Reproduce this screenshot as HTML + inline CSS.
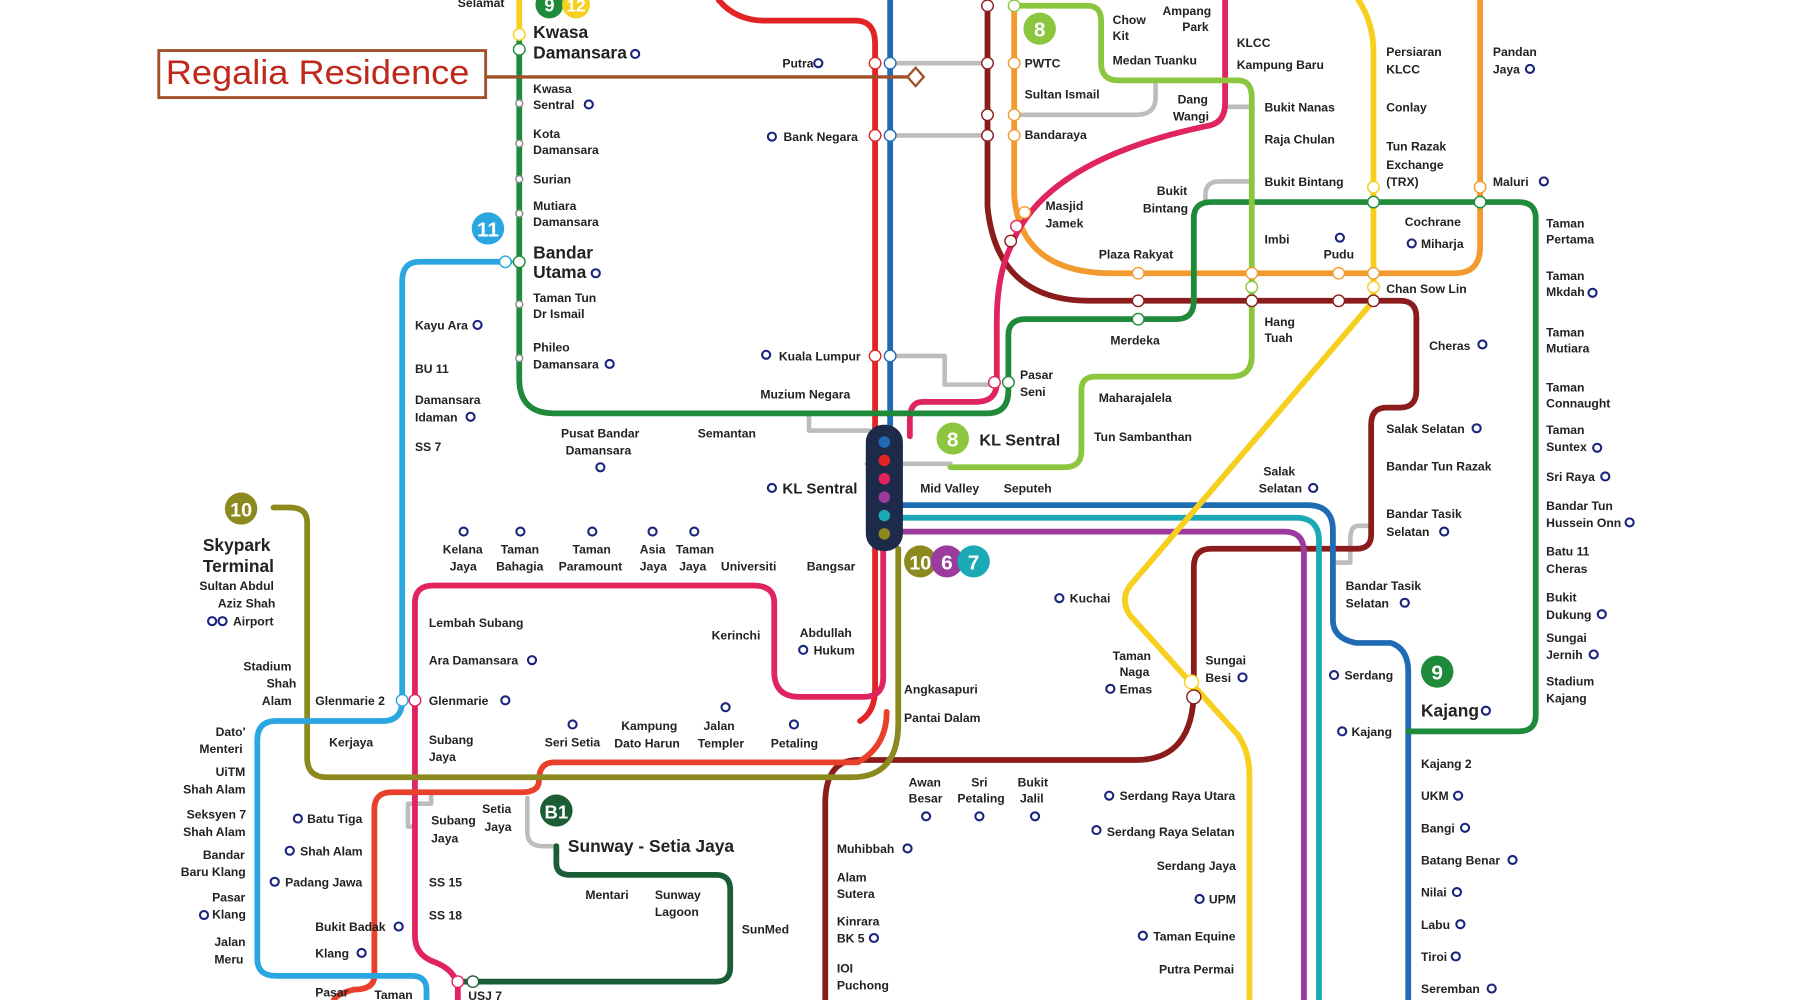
<!DOCTYPE html>
<html><head><meta charset="utf-8">
<style>
html,body{margin:0;padding:0;background:#fff;}
svg{display:block}
text{font-family:"Liberation Sans Narrow","Liberation Sans",sans-serif;font-weight:bold;fill:#222;font-size:10.5px}
.b{font-size:15px}
.l{fill:none;stroke-linecap:round;stroke-linejoin:round}
.s{fill:#fff;stroke-width:1.2}
.o{fill:none;stroke:#1a237e;stroke-width:1.8}
</style></head><body>
<svg width="1800" height="1000" viewBox="0 0 1553 871" preserveAspectRatio="none" xmlns="http://www.w3.org/2000/svg">
<rect width="1553" height="871" fill="#fff"/>
<g class="l" stroke="#bdbdbd" stroke-width="4">
<path d="M770,55 H852"/><path d="M770,118 H852"/>
<path d="M875,100 H980 Q997,100 997,85 V70"/>
<path d="M770,310 H815 V335 H858"/>
<path d="M1040,175 V170 Q1040,158 1052,158 H1080"/>
<path d="M1057,93 H1080"/>
<path d="M698,360 V375 H750"/>
<path d="M1183,445 V458 H1172 Q1165,458 1165,470 V490 H1152"/>
<path d="M372,690 V700 H352 V720 H358"/>
<path d="M455,695 V725 Q455,737 468,737 H480"/>
<path d="M748,404 H820"/>
</g>
<path class="l" stroke="#f29a2e" stroke-width="5" d="M875,0 V170 Q880,238 960,238 H1255 Q1277,238 1277,215 V0"/>
<path class="l" stroke="#8b1c1c" stroke-width="5" d="M852,0 V180 Q860,262 940,262 H1208 Q1222,262 1222,276 V340 Q1222,355 1208,355 H1196 Q1183,355 1183,370 V466 Q1183,478 1170,478 H1045 Q1030,478 1030,494 V600 Q1030,662 980,662 H740 Q712,662 712,700 V871"/>
<path class="l" stroke="#e32424" stroke-width="5" d="M620,0 Q635,18 660,18 H738 Q755,18 755,38 V600 Q755,620 742,628"/>
<path class="l" stroke="#1f6cb5" stroke-width="5" d="M768,0 V440 H1128 Q1150,440 1150,462 V540 Q1150,556 1170,560 H1200 Q1215,565 1215,585 V871"/>
<path class="l" stroke="#1ba9b5" stroke-width="5" d="M775,451 H1118 Q1138,451 1138,471 V871"/>
<path class="l" stroke="#9b3b9e" stroke-width="5" d="M775,463 H1108 Q1125,463 1125,481 V871"/>
<path class="l" stroke="#e0245e" stroke-width="5" d="M1057,0 V90 Q1057,108 1040,110 Q900,140 872,215 Q860,240 860,280 V333 Q860,350 842,350 H796 Q785,350 785,365 V380"/>
<path class="l" stroke="#e0245e" stroke-width="5" d="M762,470 V590 Q762,607 745,607 H690 Q668,607 668,585 V525 Q668,510 650,510 H374 Q358,510 358,525 V815 Q358,832 375,838 Q393,845 395,860 V871"/>
<path class="l" stroke="#e8402a" stroke-width="5" d="M765,620 Q765,650 740,664 H478 Q465,664 465,680 Q465,690 450,690 H338 Q323,690 323,705 V850 Q323,862 305,862 Q290,866 288,871"/>
<path class="l" stroke="#8c8a1f" stroke-width="5" d="M775,478 V630 Q775,677 735,677 H282 Q265,677 265,660 V455 Q265,442 250,442 H236"/>
<path class="l" stroke="#2aa6e0" stroke-width="5" d="M440,228 H362 Q347,228 347,245 V610 Q347,628 330,628 H238 Q222,628 222,645 V835 Q222,850 238,850 H355 Q368,850 368,862 V871"/>
<path class="l" stroke="#1e8a3a" stroke-width="5" d="M448,30 V330 Q448,360 478,360 H852 Q870,360 870,340 V292 Q870,278 885,278 H1015 Q1030,278 1030,262 V190 Q1030,176 1045,176 H1310 Q1325,176 1325,190 V623 Q1325,637 1310,637 H1215"/>
<path class="l" stroke="#f6cf1f" stroke-width="5" d="M448,0 V30"/>
<path class="l" stroke="#f6cf1f" stroke-width="5" d="M1172,0 Q1185,20 1185,45 V262 L975,510 Q966,522 975,536 L1068,640 Q1078,655 1078,675 V871"/>
<path class="l" stroke="#8cc63f" stroke-width="5" d="M875,5 H938 Q950,5 950,18 V55 Q950,70 965,70 H1068 Q1080,70 1080,85 V310 Q1080,328 1062,328 H945 Q933,328 933,340 V393 Q933,407 918,407 H820"/>
<path class="l" stroke="#1b5e36" stroke-width="5" d="M480,737 V752 Q480,762 492,762 H618 Q630,762 630,775 V843 Q630,855 617,855 H395"/>
<path d="M420,67 H785" stroke="#a2502a" stroke-width="3"/>
<path d="M790,59 L797,67 L790,75 L783,67 Z" fill="#fff" stroke="#a2502a" stroke-width="2"/>
<rect x="137" y="44" width="282" height="41" fill="#fff" stroke="#a2502a" stroke-width="2.5"/>
<text x="143" y="73" style="font-family:'Liberation Sans',sans-serif;font-weight:normal;font-size:30px;fill:#c0281c" textLength="262" lengthAdjust="spacingAndGlyphs">Regalia Residence</text>
<rect x="747" y="370" width="32" height="110" rx="15" fill="#1d2a4a"/>
<circle cx="763" cy="385" r="5" fill="#1f6cb5"/><circle cx="763" cy="401" r="5" fill="#e32424"/><circle cx="763" cy="417" r="5" fill="#e0245e"/><circle cx="763" cy="433" r="5" fill="#9b3b9e"/><circle cx="763" cy="449" r="5" fill="#1ba9b5"/><circle cx="763" cy="465" r="5" fill="#8c8a1f"/>
<g style="font-family:'Liberation Sans',sans-serif;font-weight:bold" text-anchor="middle">
<circle cx="474" cy="4" r="12" fill="#1e8a3a"/><circle cx="497" cy="4" r="12" fill="#f6cf1f"/>
<text x="474" y="10" style="fill:#fff;font-size:16px">9</text><text x="497" y="10" style="fill:#fff;font-size:15px">12</text>
<circle cx="421" cy="199" r="14" fill="#2aa6e0"/><text x="421" y="206" style="fill:#fff;font-size:18px">11</text>
<circle cx="897" cy="25" r="14" fill="#8cc63f"/><text x="897" y="32" style="fill:#fff;font-size:18px">8</text>
<circle cx="822" cy="382" r="14" fill="#8cc63f"/><text x="822" y="389" style="fill:#fff;font-size:18px">8</text>
<circle cx="208" cy="443" r="14" fill="#8c8a1f"/><text x="208" y="450" style="fill:#fff;font-size:17px">10</text>
<circle cx="794" cy="489" r="14" fill="#8c8a1f"/><text x="794" y="496" style="fill:#fff;font-size:17px">10</text>
<circle cx="817" cy="489" r="14" fill="#9b3b9e"/><text x="817" y="496" style="fill:#fff;font-size:18px">6</text>
<circle cx="840" cy="489" r="14" fill="#1ba9b5"/><text x="840" y="496" style="fill:#fff;font-size:18px">7</text>
<circle cx="480" cy="706" r="14" fill="#1b5e36"/><text x="480" y="713" style="fill:#fff;font-size:16px">B1</text>
<circle cx="1240" cy="585" r="14" fill="#1e8a3a"/><text x="1240" y="592" style="fill:#fff;font-size:18px">9</text>
</g>
<g class="s" stroke="#888">
<circle cx="448" cy="30" r="5" stroke="#f6cf1f"/><circle cx="448" cy="43" r="5" stroke="#1e8a3a"/>
<circle cx="448" cy="90" r="3"/><circle cx="448" cy="125" r="3"/><circle cx="448" cy="156" r="3"/><circle cx="448" cy="186" r="3"/><circle cx="448" cy="265" r="3"/><circle cx="448" cy="312" r="3"/>
<circle cx="436" cy="228" r="5" stroke="#2aa6e0"/><circle cx="448" cy="228" r="5" stroke="#1e8a3a"/>
<circle cx="755" cy="55" r="5" stroke="#e32424"/><circle cx="768" cy="55" r="5" stroke="#1f6cb5"/>
<circle cx="755" cy="118" r="5" stroke="#e32424"/><circle cx="768" cy="118" r="5" stroke="#1f6cb5"/>
<circle cx="755" cy="310" r="5" stroke="#e32424"/><circle cx="768" cy="310" r="5" stroke="#1f6cb5"/>
<circle cx="852" cy="5" r="5" stroke="#8b1c1c"/><circle cx="875" cy="5" r="5" stroke="#8cc63f"/>
<circle cx="852" cy="55" r="5" stroke="#8b1c1c"/><circle cx="875" cy="55" r="5" stroke="#f29a2e"/>
<circle cx="852" cy="100" r="5" stroke="#8b1c1c"/><circle cx="875" cy="100" r="5" stroke="#f29a2e"/>
<circle cx="852" cy="118" r="5" stroke="#8b1c1c"/><circle cx="875" cy="118" r="5" stroke="#f29a2e"/>
<circle cx="884" cy="185" r="5" stroke="#f29a2e"/><circle cx="877" cy="197" r="5" stroke="#e0245e"/><circle cx="872" cy="210" r="5" stroke="#8b1c1c"/>
<circle cx="982" cy="238" r="5" stroke="#f29a2e"/><circle cx="982" cy="262" r="5" stroke="#8b1c1c"/><circle cx="982" cy="278" r="5" stroke="#1e8a3a"/>
<circle cx="1080" cy="238" r="5" stroke="#f29a2e"/><circle cx="1080" cy="250" r="5" stroke="#8cc63f"/><circle cx="1080" cy="262" r="5" stroke="#8b1c1c"/>
<circle cx="1155" cy="238" r="5" stroke="#f29a2e"/><circle cx="1155" cy="262" r="5" stroke="#8b1c1c"/>
<circle cx="1185" cy="238" r="5" stroke="#f29a2e"/><circle cx="1185" cy="250" r="5" stroke="#f6cf1f"/><circle cx="1185" cy="262" r="5" stroke="#8b1c1c"/>
<circle cx="1185" cy="163" r="5" stroke="#f6cf1f"/><circle cx="1185" cy="176" r="5" stroke="#1e8a3a"/>
<circle cx="1277" cy="163" r="5" stroke="#f29a2e"/><circle cx="1277" cy="176" r="5" stroke="#1e8a3a"/>
<circle cx="858" cy="333" r="5" stroke="#e0245e"/><circle cx="870" cy="333" r="5" stroke="#1e8a3a"/>
<circle cx="347" cy="610" r="5" stroke="#2aa6e0"/><circle cx="358" cy="610" r="5" stroke="#e0245e"/>
<circle cx="1028" cy="594" r="6" stroke="#f6cf1f"/><circle cx="1030" cy="607" r="6" stroke="#8b1c1c"/>
<circle cx="395" cy="855" r="5" stroke="#e0245e"/><circle cx="408" cy="855" r="5" stroke="#1b5e36"/>
</g>
<g>
<text x="395" y="6">Selamat</text>
<text x="460" y="33" class="b">Kwasa</text><text x="460" y="51" class="b">Damansara</text>
<text x="460" y="81">Kwasa</text><text x="460" y="95">Sentral</text>
<text x="460" y="120">Kota</text><text x="460" y="134">Damansara</text>
<text x="460" y="160">Surian</text>
<text x="460" y="183">Mutiara</text><text x="460" y="197">Damansara</text>
<text x="460" y="225" class="b">Bandar</text><text x="460" y="242" class="b">Utama</text>
<text x="460" y="263">Taman Tun</text><text x="460" y="277">Dr Ismail</text>
<text x="460" y="306">Phileo</text><text x="460" y="321">Damansara</text>
<text x="675" y="59">Putra</text>
<text x="676" y="123">Bank Negara</text>
<text x="672" y="314">Kuala Lumpur</text>
<text x="656" y="347">Muzium Negara</text>
<text x="484" y="381">Pusat Bandar</text><text x="488" y="396">Damansara</text>
<text x="602" y="381">Semantan</text>
<text x="675" y="430" style="font-size:13px">KL Sentral</text>
<text x="358" y="287">Kayu Ara</text>
<text x="358" y="325">BU 11</text>
<text x="358" y="352">Damansara</text><text x="358" y="367">Idaman</text>
<text x="358" y="393">SS 7</text>
<text x="884" y="59">PWTC</text>
<text x="960" y="21">Chow</text><text x="960" y="35">Kit</text>
<text x="1003" y="13">Ampang</text><text x="1020" y="27">Park</text>
<text x="960" y="56">Medan Tuanku</text>
<text x="884" y="86">Sultan Ismail</text>
<text x="884" y="121">Bandaraya</text>
<text x="1067" y="41">KLCC</text><text x="1067" y="60">Kampung Baru</text>
<text x="1016" y="90">Dang</text><text x="1012" y="105">Wangi</text>
<text x="1091" y="97">Bukit Nanas</text>
<text x="1091" y="125">Raja Chulan</text>
<text x="1091" y="162">Bukit Bintang</text>
<text x="998" y="170">Bukit</text><text x="986" y="185">Bintang</text>
<text x="902" y="183">Masjid</text><text x="902" y="198">Jamek</text>
<text x="948" y="225">Plaza Rakyat</text>
<text x="1091" y="212">Imbi</text>
<text x="1142" y="225">Pudu</text>
<text x="958" y="300">Merdeka</text>
<text x="1091" y="284">Hang</text><text x="1091" y="298">Tuah</text>
<text x="1196" y="49">Persiaran</text><text x="1196" y="64">KLCC</text>
<text x="1196" y="97">Conlay</text>
<text x="1196" y="131">Tun Razak</text><text x="1196" y="147">Exchange</text><text x="1196" y="162">(TRX)</text>
<text x="1212" y="197">Cochrane</text><text x="1226" y="216">Miharja</text>
<text x="1196" y="255">Chan Sow Lin</text>
<text x="1288" y="49">Pandan</text><text x="1288" y="64">Jaya</text>
<text x="1288" y="162">Maluri</text>
<text x="1233" y="305">Cheras</text>
<text x="880" y="330">Pasar</text><text x="880" y="345">Seni</text>
<text x="948" y="350">Maharajalela</text>
<text x="944" y="384">Tun Sambanthan</text>
<text x="845" y="388" style="font-size:14px">KL Sentral</text>
<text x="794" y="429">Mid Valley</text><text x="866" y="429">Seputeh</text>
<text x="1090" y="414">Salak</text><text x="1086" y="429">Selatan</text>
<text x="1196" y="377">Salak Selatan</text>
<text x="1196" y="410">Bandar Tun Razak</text>
<text x="1196" y="451">Bandar Tasik</text><text x="1196" y="467">Selatan</text>
<text x="1161" y="514">Bandar Tasik</text><text x="1161" y="529">Selatan</text>
<text x="1334" y="198">Taman</text><text x="1334" y="212">Pertama</text>
<text x="1334" y="244">Taman</text><text x="1334" y="258">Mkdah</text>
<text x="1334" y="293">Taman</text><text x="1334" y="307">Mutiara</text>
<text x="1334" y="341">Taman</text><text x="1334" y="355">Connaught</text>
<text x="1334" y="378">Taman</text><text x="1334" y="393">Suntex</text>
<text x="1334" y="419">Sri Raya</text>
<text x="1334" y="444">Bandar Tun</text><text x="1334" y="459">Hussein Onn</text>
<text x="1334" y="484">Batu 11</text><text x="1334" y="499">Cheras</text>
<text x="1334" y="524">Bukit</text><text x="1334" y="539">Dukung</text>
<text x="1334" y="559">Sungai</text><text x="1334" y="574">Jernih</text>
<text x="1334" y="597">Stadium</text><text x="1334" y="612">Kajang</text>
<text x="1226" y="624" class="b">Kajang</text>
<text x="1160" y="592">Serdang</text><text x="1166" y="641">Kajang</text>
<text x="1226" y="669">Kajang 2</text><text x="1226" y="697">UKM</text><text x="1226" y="725">Bangi</text>
<text x="1226" y="753">Batang Benar</text><text x="1226" y="781">Nilai</text><text x="1226" y="809">Labu</text>
<text x="1226" y="837">Tiroi</text><text x="1226" y="865">Seremban</text>
<text x="923" y="525">Kuchai</text>
<text x="960" y="575">Taman</text><text x="966" y="589">Naga</text><text x="966" y="604">Emas</text>
<text x="1040" y="579">Sungai</text><text x="1040" y="594">Besi</text>
<text x="966" y="697">Serdang Raya Utara</text>
<text x="955" y="728">Serdang Raya Selatan</text>
<text x="998" y="758">Serdang Jaya</text>
<text x="1043" y="787">UPM</text>
<text x="995" y="819">Taman Equine</text>
<text x="1000" y="848">Putra Permai</text>
<text x="784" y="685">Awan</text><text x="784" y="699">Besar</text>
<text x="838" y="685">Sri</text><text x="826" y="699">Petaling</text>
<text x="878" y="685">Bukit</text><text x="880" y="699">Jalil</text>
<text x="722" y="743">Muhibbah</text>
<text x="722" y="768">Alam</text><text x="722" y="782">Sutera</text>
<text x="722" y="806">Kinrara</text><text x="722" y="821">BK 5</text>
<text x="722" y="847">IOI</text><text x="722" y="862">Puchong</text>
<text x="780" y="604">Angkasapuri</text>
<text x="780" y="629">Pantai Dalam</text>
<text x="382" y="482">Kelana</text><text x="388" y="497">Jaya</text>
<text x="432" y="482">Taman</text><text x="428" y="497">Bahagia</text>
<text x="494" y="482">Taman</text><text x="482" y="497">Paramount</text>
<text x="552" y="482">Asia</text><text x="552" y="497">Jaya</text>
<text x="583" y="482">Taman</text><text x="586" y="497">Jaya</text>
<text x="622" y="497">Universiti</text>
<text x="696" y="497">Bangsar</text>
<text x="614" y="557">Kerinchi</text>
<text x="690" y="555">Abdullah</text><text x="702" y="570">Hukum</text>
<text x="370" y="546">Lembah Subang</text>
<text x="370" y="579">Ara Damansara</text>
<text x="370" y="614">Glenmarie</text>
<text x="272" y="614">Glenmarie 2</text>
<text x="370" y="648">Subang</text><text x="370" y="663">Jaya</text>
<text x="470" y="650">Seri Setia</text>
<text x="536" y="636">Kampung</text><text x="530" y="651">Dato Harun</text>
<text x="607" y="636">Jalan</text><text x="602" y="651">Templer</text>
<text x="665" y="651">Petaling</text>
<text x="284" y="650">Kerjaya</text>
<text x="175" y="480" class="b">Skypark</text><text x="175" y="498" class="b">Terminal</text>
<text x="172" y="514">Sultan Abdul</text><text x="188" y="529">Aziz Shah</text><text x="201" y="545">Airport</text>
<text x="210" y="584">Stadium</text><text x="230" y="599">Shah</text><text x="226" y="614">Alam</text>
<text x="186" y="641">Dato'</text><text x="172" y="656">Menteri</text>
<text x="186" y="676">UiTM</text><text x="158" y="691">Shah Alam</text>
<text x="161" y="713">Seksyen 7</text><text x="158" y="728">Shah Alam</text>
<text x="175" y="748">Bandar</text><text x="156" y="763">Baru Klang</text>
<text x="183" y="785">Pasar</text><text x="183" y="800">Klang</text>
<text x="185" y="824">Jalan</text><text x="185" y="839">Meru</text>
<text x="265" y="717">Batu Tiga</text>
<text x="259" y="745">Shah Alam</text>
<text x="246" y="772">Padang Jawa</text>
<text x="272" y="811">Bukit Badak</text>
<text x="272" y="834">Klang</text>
<text x="372" y="718">Subang</text><text x="372" y="734">Jaya</text>
<text x="416" y="708">Setia</text><text x="418" y="724">Jaya</text>
<text x="370" y="772">SS 15</text><text x="370" y="801">SS 18</text>
<text x="490" y="742" style="font-size:15px">Sunway - Setia Jaya</text>
<text x="505" y="783">Mentari</text>
<text x="565" y="783">Sunway</text><text x="565" y="798">Lagoon</text>
<text x="640" y="813">SunMed</text>
<text x="272" y="868">Pasar</text><text x="323" y="870">Taman</text>
<text x="404" y="871">USJ 7</text>
</g>
<g class="o">
<circle cx="548" cy="47" r="3.5"/><circle cx="508" cy="91" r="3.5"/><circle cx="514" cy="238" r="3.5"/><circle cx="526" cy="317" r="3.5"/>
<circle cx="706" cy="55" r="3.5"/><circle cx="666" cy="119" r="3.5"/><circle cx="661" cy="309" r="3.5"/><circle cx="518" cy="407" r="3.5"/><circle cx="666" cy="425" r="3.5"/>
<circle cx="412" cy="283" r="3.5"/><circle cx="406" cy="363" r="3.5"/>
<circle cx="1320" cy="60" r="3.5"/><circle cx="1332" cy="158" r="3.5"/><circle cx="1156" cy="207" r="3.5"/><circle cx="1218" cy="212" r="3.5"/>
<circle cx="1279" cy="300" r="3.5"/><circle cx="1274" cy="373" r="3.5"/><circle cx="1246" cy="463" r="3.5"/><circle cx="1133" cy="425" r="3.5"/><circle cx="1212" cy="525" r="3.5"/>
<circle cx="1374" cy="255" r="3.5"/><circle cx="1378" cy="390" r="3.5"/><circle cx="1385" cy="415" r="3.5"/><circle cx="1406" cy="455" r="3.5"/><circle cx="1382" cy="535" r="3.5"/><circle cx="1375" cy="570" r="3.5"/>
<circle cx="1282" cy="619" r="3.5"/><circle cx="1151" cy="588" r="3.5"/><circle cx="1158" cy="637" r="3.5"/>
<circle cx="1258" cy="693" r="3.5"/><circle cx="1264" cy="721" r="3.5"/><circle cx="1305" cy="749" r="3.5"/><circle cx="1257" cy="777" r="3.5"/><circle cx="1260" cy="805" r="3.5"/><circle cx="1256" cy="833" r="3.5"/><circle cx="1287" cy="861" r="3.5"/>
<circle cx="914" cy="521" r="3.5"/><circle cx="958" cy="600" r="3.5"/><circle cx="1072" cy="590" r="3.5"/>
<circle cx="957" cy="693" r="3.5"/><circle cx="946" cy="723" r="3.5"/><circle cx="1035" cy="783" r="3.5"/><circle cx="986" cy="815" r="3.5"/>
<circle cx="799" cy="711" r="3.5"/><circle cx="845" cy="711" r="3.5"/><circle cx="893" cy="711" r="3.5"/>
<circle cx="783" cy="739" r="3.5"/><circle cx="754" cy="817" r="3.5"/>
<circle cx="400" cy="463" r="3.5"/><circle cx="449" cy="463" r="3.5"/><circle cx="511" cy="463" r="3.5"/><circle cx="563" cy="463" r="3.5"/><circle cx="599" cy="463" r="3.5"/>
<circle cx="693" cy="566" r="3.5"/><circle cx="459" cy="575" r="3.5"/><circle cx="436" cy="610" r="3.5"/>
<circle cx="494" cy="631" r="3.5"/><circle cx="626" cy="616" r="3.5"/><circle cx="685" cy="631" r="3.5"/>
<circle cx="183" cy="541" r="3.5"/><circle cx="192" cy="541" r="3.5"/>
<circle cx="257" cy="713" r="3.5"/><circle cx="250" cy="741" r="3.5"/><circle cx="237" cy="768" r="3.5"/><circle cx="176" cy="797" r="3.5"/>
<circle cx="344" cy="807" r="3.5"/><circle cx="312" cy="830" r="3.5"/>
</g>
</svg>
</body></html>
